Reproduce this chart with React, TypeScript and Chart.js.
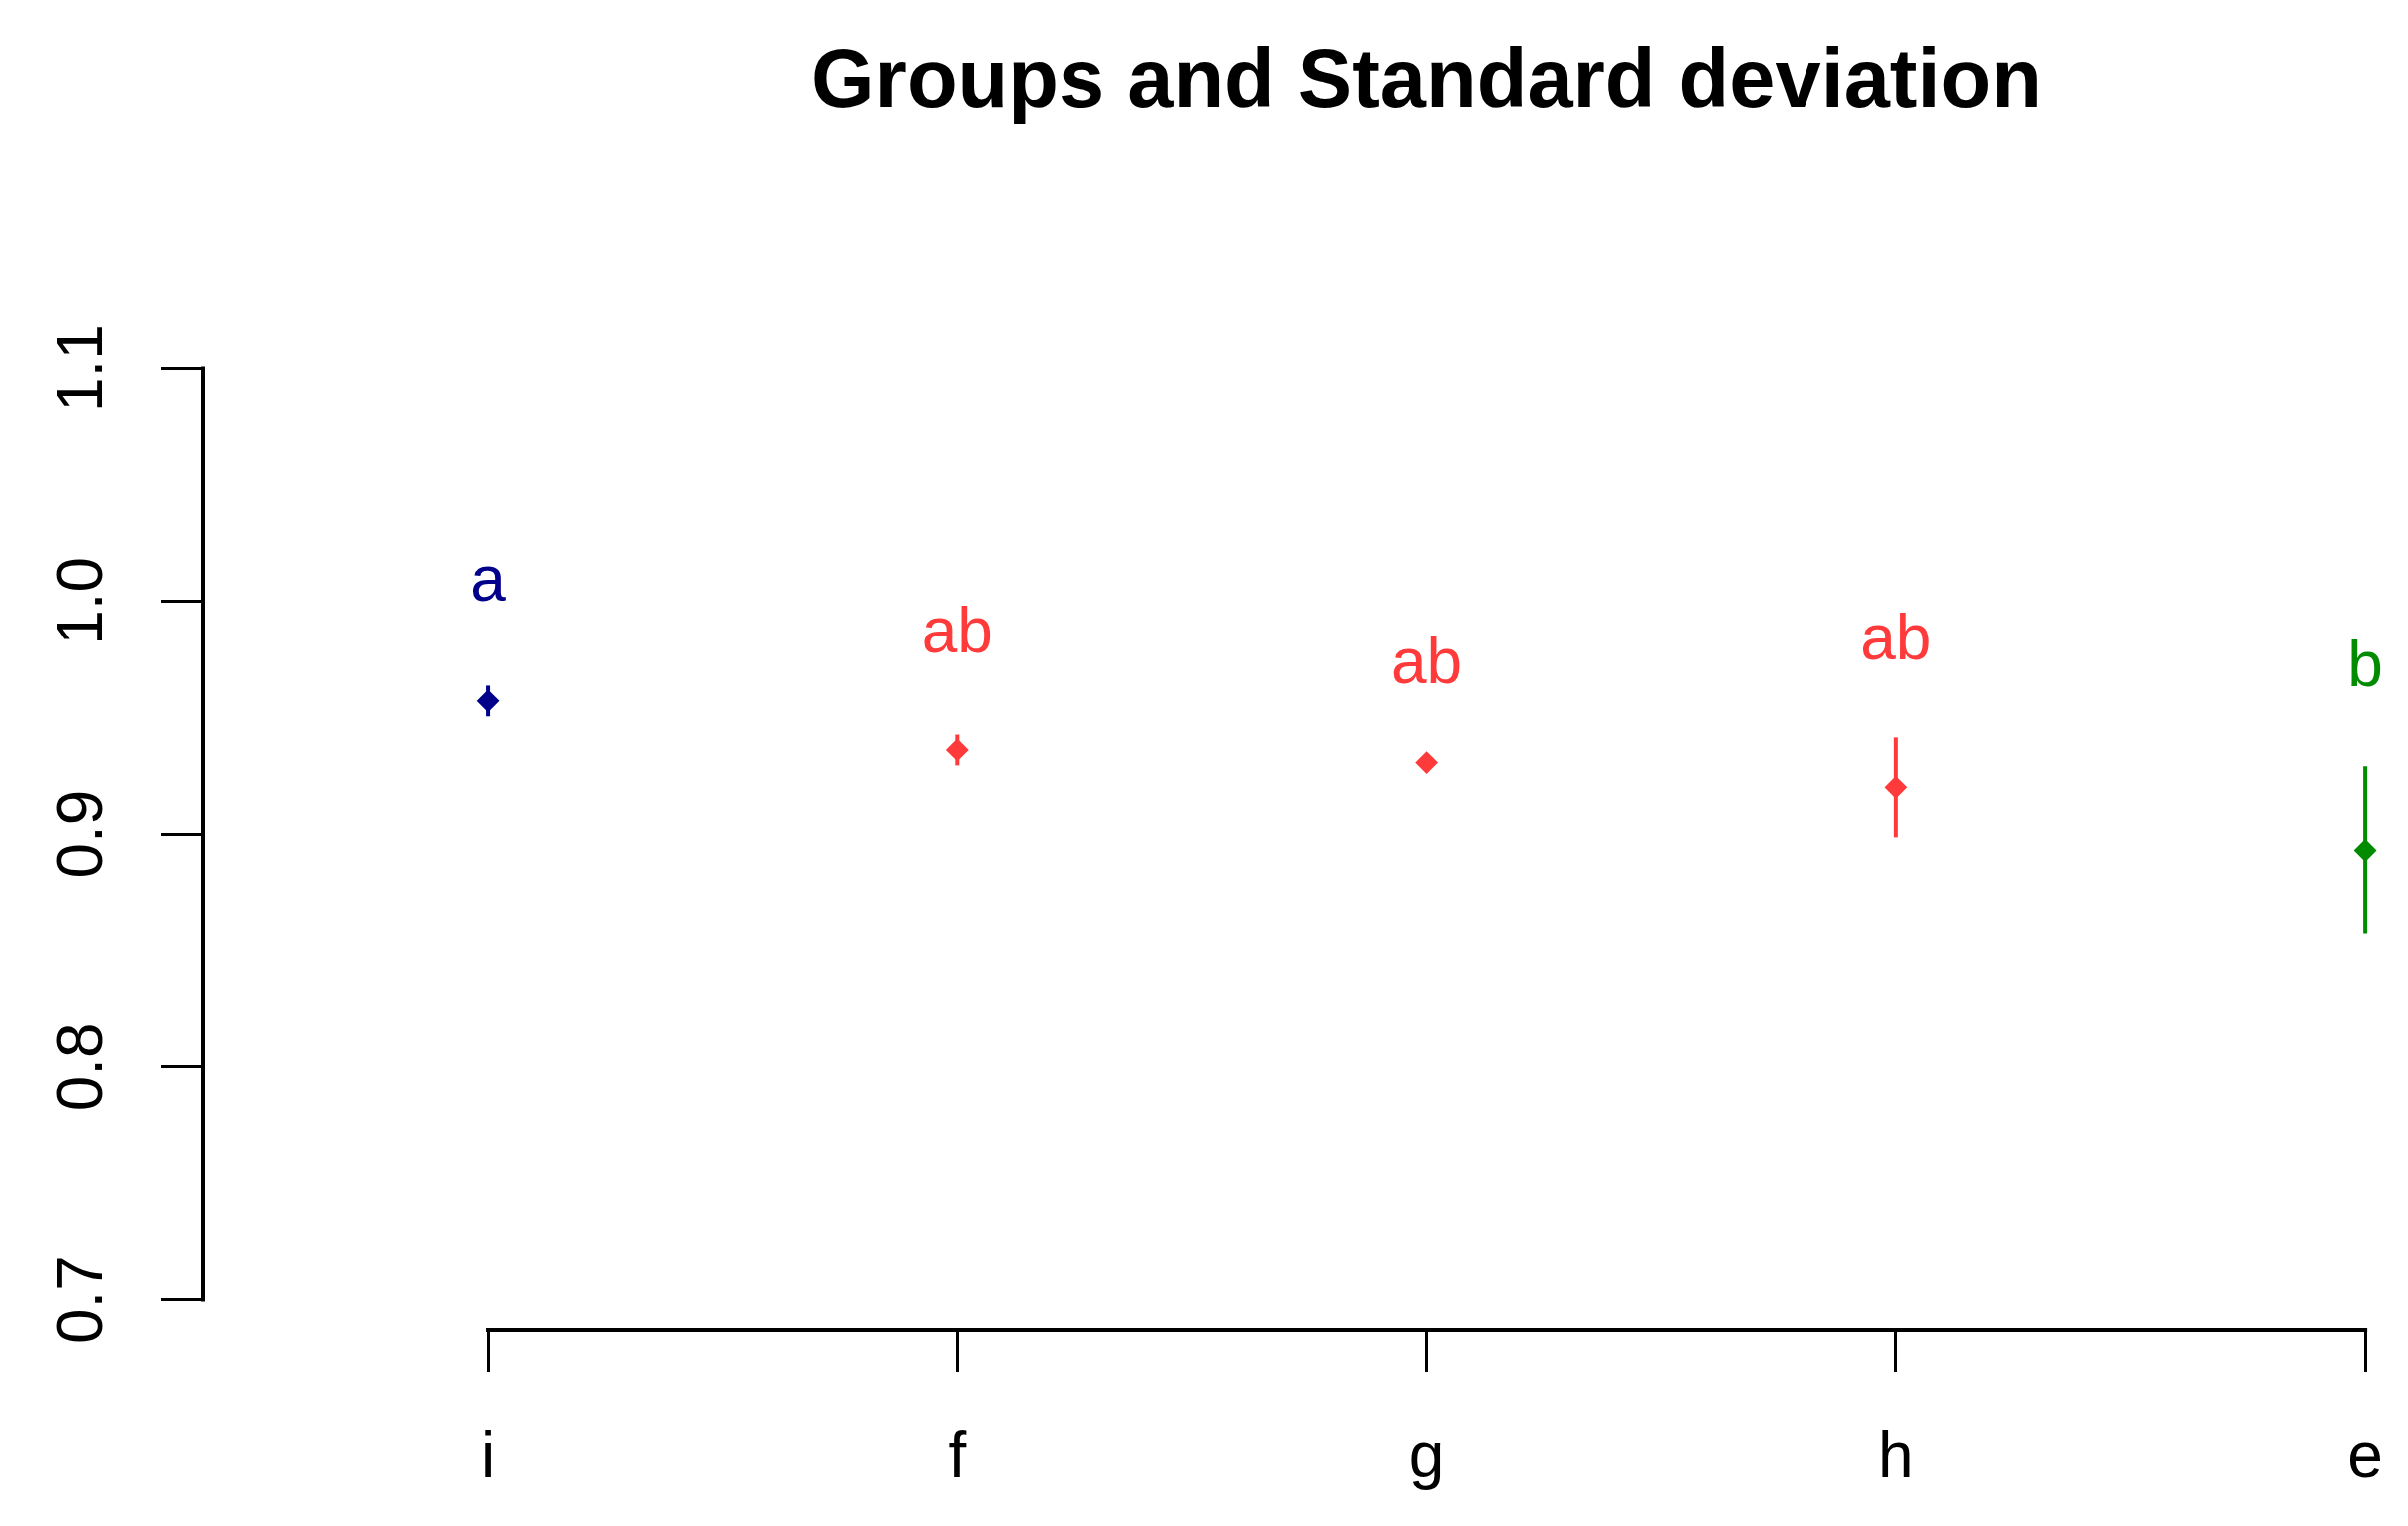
import React, { useEffect, useRef } from "react";
import { Chart, registerables } from "chart.js";

Chart.register(...registerables);

// ---- data ----
const groups = ["i", "f", "g", "h", "e"];
const means = [0.957, 0.936, 0.9306, 0.92, 0.893];
const sds = [0.0066, 0.0066, 0.003, 0.0214, 0.036];
const letters = ["a", "ab", "ab", "ab", "b"];
const letterY = [1.0003, 0.978, 0.9648, 0.975, 0.9635];
const yTicks = [0.7, 0.8, 0.9, 1.0, 1.1];
const yTickLabels = ["0.7", "0.8", "0.9", "1.0", "1.1"];
const titleText = "Groups and Standard deviation";

// ---- styles ----
const groupColors = ["#00008B", "#FF3A3A", "#FF3A3A", "#FF3A3A", "#008B00"];
const FONT = "'Liberation Sans', Arial, Helvetica, sans-serif";

export default function App() {
  const ref = useRef<HTMLCanvasElement | null>(null);

  useEffect(() => {
    document.body.style.margin = "0";
    const canvas = ref.current;
    if (!canvas) return;

    const xVals = groups.map((_, i) => i + 1);

    const errorSets = groups.map((g, i) => ({
      type: "line" as const,
      label: "sd " + g,
      data: [
        { x: xVals[i], y: means[i] - sds[i] },
        { x: xVals[i], y: means[i] + sds[i] },
      ],
      borderColor: groupColors[i],
      borderWidth: 4,
      pointRadius: 0,
      showLine: true,
      fill: false,
    }));

    const pointSet = {
      type: "scatter" as const,
      label: "means",
      data: groups.map((_, i) => ({ x: xVals[i], y: means[i] })),
      pointStyle: "rectRot",
      pointRadius: 10,
      pointBorderWidth: 2,
      pointBackgroundColor: groupColors,
      pointBorderColor: groupColors,
      showLine: false,
    };

    const decor = {
      id: "rDecor",
      afterDraw(chart: any) {
        const ctx = chart.ctx;
        const xs = chart.scales.x;
        const ys = chart.scales.y;
        ctx.save();
        // axis lines (R style, spanning first to last tick)
        ctx.strokeStyle = "#000";
        ctx.lineWidth = 4;
        ctx.lineCap = "square";
        ctx.beginPath();
        const yb = chart.chartArea.bottom;
        ctx.moveTo(xs.getPixelForValue(xVals[0]), yb);
        ctx.lineTo(xs.getPixelForValue(xVals[xVals.length - 1]), yb);
        const xl = chart.chartArea.left;
        ctx.moveTo(xl, ys.getPixelForValue(yTicks[0]));
        ctx.lineTo(xl, ys.getPixelForValue(yTicks[yTicks.length - 1]));
        ctx.stroke();

        // group letters
        ctx.font = `64px ${FONT}`;
        ctx.textAlign = "center";
        ctx.textBaseline = "alphabetic";
        groups.forEach((_, i) => {
          ctx.fillStyle = groupColors[i];
          ctx.fillText(letters[i], xs.getPixelForValue(xVals[i]), ys.getPixelForValue(letterY[i]));
        });

        // title
        ctx.fillStyle = "#000";
        ctx.font = `bold 83px ${FONT}`;
        ctx.textAlign = "center";
        ctx.fillText(titleText, 1432, 107);
        ctx.restore();
      },
    };

    const chart = new Chart(canvas, {
      type: "scatter",
      data: { datasets: [pointSet as any, ...(errorSets as any)] },
      options: {
        responsive: false,
        animation: false,
        layout: { autoPadding: false, padding: { top: 150, left: 0, right: 0, bottom: 0 } },
        plugins: {
          legend: { display: false },
          tooltip: { enabled: false },
          title: { display: false },
        },
        scales: {
          x: {
            type: "linear",
            position: "bottom",
            min: 0.393,
            max: 5.091,
            afterFit: (s: any) => {
              s.height = 197;
              s.paddingLeft = 0;
              s.paddingRight = 0;
            },
            afterBuildTicks: (s: any) => {
              s.ticks = xVals.map((v) => ({ value: v }));
            },
            border: { display: false },
            grid: {
              display: true,
              drawOnChartArea: false,
              drawTicks: true,
              tickLength: 42,
              color: "#000",
              lineWidth: 3,
            },
            ticks: {
              color: "#000",
              font: { family: FONT, size: 64 },
              padding: 50,
              maxRotation: 0,
              minRotation: 0,
              autoSkip: false,
              callback: (v: any) => groups[Math.round(Number(v)) - 1] ?? "",
            },
          },
          y: {
            type: "linear",
            position: "left",
            min: 0.687,
            max: 1.19395,
            afterFit: (s: any) => {
              s.width = 204;
              s.paddingTop = 0;
              s.paddingBottom = 0;
            },
            afterBuildTicks: (s: any) => {
              s.ticks = yTicks.map((v) => ({ value: v }));
            },
            border: { display: false },
            grid: {
              display: true,
              drawOnChartArea: false,
              drawTicks: true,
              tickLength: 42,
              color: "#000",
              lineWidth: 3,
            },
            ticks: {
              color: "#000",
              font: { family: FONT, size: 64 },
              padding: 33,
              minRotation: 90,
              maxRotation: 90,
              crossAlign: "center",
              autoSkip: false,
              callback: (v: any) => {
                const idx = yTicks.findIndex((t) => Math.abs(t - Number(v)) < 1e-9);
                return idx >= 0 ? yTickLabels[idx] : "";
              },
            },
          },
        },
      },
      plugins: [decor],
    });

    return () => chart.destroy();
  }, []);

  return (
    <div style={{ width: 2418, height: 1532, position: "relative", background: "#fff" }}>
      <canvas ref={ref} width={2418} height={1532} style={{ display: "block" }} />
    </div>
  );
}
